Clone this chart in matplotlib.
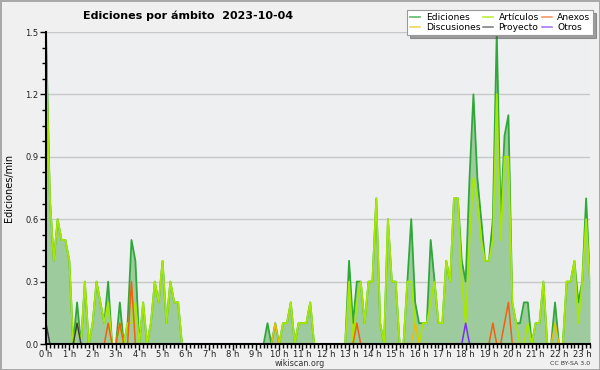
import matplotlib
matplotlib.use("Agg")
import matplotlib.pyplot as plt
from matplotlib.ticker import MultipleLocator, FixedLocator, FormatStrFormatter

# 10-minute slots, index 0 = 00:00 ... index 140 = 23:20
ediciones = [
    1.5, 0.7, 0.4, 0.6, 0.5, 0.5,   # 0h
    0.4, 0.0, 0.2, 0.0, 0.3, 0.0,   # 1h
    0.1, 0.3, 0.2, 0.1, 0.3, 0.0,   # 2h
    0.0, 0.2, 0.0, 0.1, 0.5, 0.4,   # 3h
    0.0, 0.2, 0.0, 0.1, 0.3, 0.2,   # 4h
    0.4, 0.1, 0.3, 0.2, 0.2, 0.0,   # 5h
    0.0, 0.0, 0.0, 0.0, 0.0, 0.0,   # 6h
    0.0, 0.0, 0.0, 0.0, 0.0, 0.0,   # 7h
    0.0, 0.0, 0.0, 0.0, 0.0, 0.0,   # 8h
    0.0, 0.0, 0.0, 0.1, 0.0, 0.1,   # 9h
    0.0, 0.1, 0.1, 0.2, 0.0, 0.1,   # 10h
    0.1, 0.1, 0.2, 0.0, 0.0, 0.0,   # 11h
    0.0, 0.0, 0.0, 0.0, 0.0, 0.0,   # 12h
    0.4, 0.1, 0.3, 0.3, 0.1, 0.3,   # 13h
    0.3, 0.7, 0.1, 0.0, 0.6, 0.3,   # 14h
    0.3, 0.0, 0.0, 0.3, 0.6, 0.2,   # 15h
    0.1, 0.1, 0.1, 0.5, 0.3, 0.1,   # 16h
    0.1, 0.4, 0.3, 0.7, 0.7, 0.4,   # 17h
    0.3, 0.8, 1.2, 0.8, 0.6, 0.4,   # 18h
    0.4, 0.6, 1.5, 0.6, 1.0, 1.1,   # 19h
    0.2, 0.1, 0.1, 0.2, 0.2, 0.0,   # 20h
    0.1, 0.1, 0.3, 0.0, 0.0, 0.2,   # 21h
    0.0, 0.0, 0.3, 0.3, 0.4, 0.2,   # 22h
    0.3, 0.7, 0.3,                  # 23h
]
articulos = [
    1.4, 0.7, 0.4, 0.6, 0.5, 0.5,
    0.4, 0.0, 0.1, 0.0, 0.3, 0.0,
    0.1, 0.3, 0.2, 0.1, 0.2, 0.0,
    0.0, 0.1, 0.0, 0.1, 0.1, 0.2,
    0.0, 0.2, 0.0, 0.1, 0.3, 0.2,
    0.4, 0.1, 0.3, 0.2, 0.2, 0.0,
    0.0, 0.0, 0.0, 0.0, 0.0, 0.0,
    0.0, 0.0, 0.0, 0.0, 0.0, 0.0,
    0.0, 0.0, 0.0, 0.0, 0.0, 0.0,
    0.0, 0.0, 0.0, 0.0, 0.0, 0.0,
    0.0, 0.1, 0.1, 0.2, 0.0, 0.1,
    0.1, 0.1, 0.2, 0.0, 0.0, 0.0,
    0.0, 0.0, 0.0, 0.0, 0.0, 0.0,
    0.3, 0.0, 0.2, 0.3, 0.1, 0.3,
    0.3, 0.7, 0.1, 0.0, 0.6, 0.3,
    0.3, 0.0, 0.0, 0.3, 0.3, 0.1,
    0.0, 0.1, 0.1, 0.2, 0.3, 0.1,
    0.1, 0.4, 0.3, 0.7, 0.7, 0.3,
    0.1, 0.5, 0.8, 0.7, 0.5, 0.4,
    0.4, 0.5, 1.2, 0.5, 0.9, 0.9,
    0.2, 0.1, 0.0, 0.0, 0.1, 0.0,
    0.1, 0.1, 0.3, 0.0, 0.0, 0.0,
    0.0, 0.0, 0.3, 0.3, 0.4, 0.1,
    0.3, 0.6, 0.3,
]
anexos = [
    0, 0, 0, 0, 0, 0,
    0, 0, 0, 0, 0, 0,
    0, 0, 0, 0, 0.1, 0,
    0, 0.1, 0, 0, 0.3, 0,
    0, 0, 0, 0, 0, 0,
    0, 0, 0, 0, 0, 0,
    0, 0, 0, 0, 0, 0,
    0, 0, 0, 0, 0, 0,
    0, 0, 0, 0, 0, 0,
    0, 0, 0, 0, 0, 0,
    0, 0, 0, 0, 0, 0,
    0, 0, 0, 0, 0, 0,
    0, 0, 0, 0, 0, 0,
    0, 0, 0.1, 0, 0, 0,
    0, 0, 0, 0, 0, 0,
    0, 0, 0, 0, 0, 0,
    0, 0, 0, 0, 0, 0,
    0, 0, 0, 0, 0, 0,
    0, 0, 0, 0, 0, 0,
    0, 0.1, 0, 0, 0.1, 0.2,
    0, 0, 0, 0, 0, 0,
    0, 0, 0, 0, 0, 0,
    0, 0, 0, 0, 0, 0,
    0, 0, 0,
]
discusiones = [
    0, 0, 0, 0, 0, 0,
    0, 0, 0, 0, 0, 0,
    0, 0, 0, 0, 0, 0,
    0, 0, 0, 0, 0, 0,
    0, 0, 0, 0, 0, 0,
    0, 0, 0, 0, 0, 0,
    0, 0, 0, 0, 0, 0,
    0, 0, 0, 0, 0, 0,
    0, 0, 0, 0, 0, 0,
    0, 0, 0, 0, 0, 0.1,
    0, 0, 0, 0, 0, 0,
    0, 0, 0, 0, 0, 0,
    0, 0, 0, 0, 0, 0,
    0, 0, 0, 0, 0, 0,
    0, 0, 0, 0, 0, 0,
    0, 0, 0, 0, 0, 0.1,
    0, 0, 0, 0, 0, 0,
    0, 0, 0, 0, 0, 0,
    0, 0, 0, 0, 0, 0,
    0, 0, 0, 0, 0, 0,
    0, 0, 0, 0, 0, 0,
    0, 0, 0, 0, 0, 0.1,
    0, 0, 0, 0, 0, 0,
    0, 0, 0,
]
proyecto = [
    0.1, 0, 0, 0, 0, 0,
    0, 0, 0.1, 0, 0, 0,
] + [0] * 129
otros = [0] * 108 + [0.1] + [0] * 32

hour_labels = [f"{h} h" for h in range(24)]

title = "Ediciones por ámbito  2023-10-04"
ylabel = "Ediciones/min"

W, H = 600, 370
fig = plt.figure(figsize=(W / 100, H / 100), dpi=100, facecolor="#f0f0f0",
                 edgecolor="#a8a8a8", linewidth=2)
ax = fig.add_axes([46 / W, 1 - 344 / H, (590 - 46) / W, (344 - 32) / H])
ax.set_facecolor("#eeeff1")

x = list(range(len(ediciones)))
ax.fill_between(x, ediciones, 0, color="#9ecb9e", lw=0, zorder=1)
l_ed, = ax.plot(x, ediciones, color="#2fa83a", lw=1.3, zorder=2, label="Ediciones")
l_ar, = ax.plot(x, articulos, color="#a6e800", lw=1.3, zorder=2.1, label="Artículos")
l_an, = ax.plot(x, anexos, color="#f06010", lw=1.1, zorder=2.2, label="Anexos")
l_di, = ax.plot(x, discusiones, color="#e8c000", lw=1.1, zorder=2.2, label="Discusiones")
l_pr, = ax.plot(x, proyecto, color="#404040", lw=1.1, zorder=2.2, label="Proyecto")
l_ot, = ax.plot(x, otros, color="#7a2ef0", lw=1.1, zorder=2.2, label="Otros")

ax.set_xlim(0, len(ediciones) - 1)
ax.set_ylim(0, 1.5)
ax.yaxis.set_major_locator(MultipleLocator(0.3))
ax.yaxis.set_minor_locator(MultipleLocator(0.075))
ax.yaxis.set_major_formatter(FormatStrFormatter("%.1f"))
ax.xaxis.set_major_locator(FixedLocator([6 * h for h in range(24)]))
ax.xaxis.set_minor_locator(MultipleLocator(1))
ax.set_xticklabels(hour_labels)
ax.grid(axis="y", color="#c8c8c8", lw=1.0, zorder=0)
ax.set_axisbelow(True)
for s in ["top", "right"]:
    ax.spines[s].set_visible(False)
for s in ["left", "bottom"]:
    ax.spines[s].set_linewidth(1.5)
    ax.spines[s].set_zorder(5)
ax.tick_params(axis="both", which="major", length=4, width=1, labelsize=6,
               colors="black", labelcolor="#222222")
ax.tick_params(axis="x", which="major", pad=0.3)
ax.tick_params(axis="y", which="major", pad=1.5)
ax.tick_params(axis="both", which="minor", length=3, width=1)

ax.set_ylabel(ylabel, fontsize=7)
ax.yaxis.set_label_coords(-0.058, 0.5)

fig.text(188 / W, 1 - 16 / H, title, ha="center", va="center",
         fontsize=8, fontweight="bold")
fig.text(300 / W, 1 - 363.5 / H, "wikiscan.org", ha="center", va="center",
         fontsize=5.8, color="#333333")
fig.text(590 / W, 1 - 363.5 / H, "CC BY-SA 3.0", ha="right", va="center",
         fontsize=4.5, color="#333333")

leg = fig.legend(handles=[l_ed, l_di, l_ar, l_pr, l_an, l_ot], ncol=3,
                 loc="upper right", bbox_to_anchor=(593 / W, 1 - 10 / H),
                 fontsize=6.6, frameon=True, fancybox=False, shadow=True,
                 handlelength=1.1, handletextpad=0.6, columnspacing=0.3,
                 labelspacing=0.15, borderpad=0.3, borderaxespad=0)
leg.get_frame().set_edgecolor("#999999")
leg.get_frame().set_linewidth(0.8)
for h in leg.legend_handles:
    h.set_alpha(0.7)

fig.savefig("out.png", dpi=100, facecolor=fig.get_facecolor(),
            edgecolor=fig.get_edgecolor())
